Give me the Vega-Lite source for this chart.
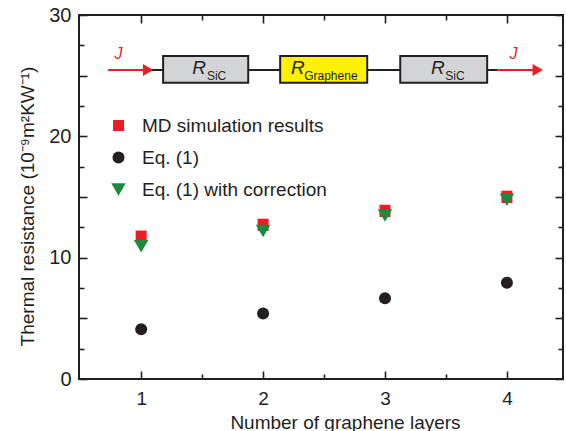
{
  "$schema": "https://vega.github.io/schema/vega-lite/v6.json",
  "width": 484,
  "height": 364,
  "autosize": {"type": "none"},
  "padding": {"left": 79, "top": 15, "right": 3, "bottom": 52},
  "background": "white",
  "config": {
    "font": "Liberation Sans",
    "view": {"stroke": "#231f20", "strokeWidth": 2},
    "axis": {
      "grid": false,
      "domain": false,
      "tickColor": "#231f20",
      "tickWidth": 1.6,
      "labelColor": "#231f20",
      "titleColor": "#231f20",
      "labelFont": "Liberation Sans",
      "titleFont": "Liberation Sans",
      "titleFontWeight": "normal"
    }
  },
  "datasets": {
    "points": [
      {"layers": 1, "value": 11.67, "series": "MD simulation results"},
      {"layers": 2, "value": 12.65, "series": "MD simulation results"},
      {"layers": 3, "value": 13.8, "series": "MD simulation results"},
      {"layers": 4, "value": 14.96, "series": "MD simulation results"},
      {"layers": 1, "value": 4.1, "series": "Eq. (1)"},
      {"layers": 2, "value": 5.4, "series": "Eq. (1)"},
      {"layers": 3, "value": 6.65, "series": "Eq. (1)"},
      {"layers": 4, "value": 7.94, "series": "Eq. (1)"},
      {"layers": 1, "value": 10.94, "series": "Eq. (1) with correction"},
      {"layers": 2, "value": 12.2, "series": "Eq. (1) with correction"},
      {"layers": 3, "value": 13.48, "series": "Eq. (1) with correction"},
      {"layers": 4, "value": 14.78, "series": "Eq. (1) with correction"}
    ],
    "errors": [
      {"layers": 1, "lo": 11.17, "hi": 12.17},
      {"layers": 2, "lo": 12.15, "hi": 13.15},
      {"layers": 3, "lo": 13.3, "hi": 14.3},
      {"layers": 4, "lo": 14.46, "hi": 15.46}
    ],
    "wire": [{"x": 1.057, "x2": 3.92, "y": 25.47}],
    "current": [
      {"x": 0.729, "x2": 1.04, "y": 25.47},
      {"x": 3.92, "x2": 4.24, "y": 25.47}
    ],
    "arrowheads": [
      {"x": 1.057, "y": 25.47},
      {"x": 4.253, "y": 25.47}
    ],
    "boxes": [
      {"x": 1.18, "x2": 1.878, "y": 24.41, "y2": 26.63, "part": "SiC"},
      {"x": 2.14, "x2": 2.854, "y": 24.41, "y2": 26.63, "part": "Graphene"},
      {"x": 3.125, "x2": 3.838, "y": 24.41, "y2": 26.63, "part": "SiC"}
    ],
    "rLabels": [
      {"x": 1.418, "y": 25.14, "text": "R"},
      {"x": 2.228, "y": 25.14, "text": "R"},
      {"x": 3.377, "y": 25.14, "text": "R"}
    ],
    "subLabels": [
      {"x": 1.539, "y": 24.65, "text": "SiC"},
      {"x": 2.337, "y": 24.65, "text": "Graphene"},
      {"x": 3.494, "y": 24.65, "text": "SiC"}
    ],
    "jLabels": [
      {"x": 0.814, "y": 26.35, "text": "J"},
      {"x": 4.054, "y": 26.35, "text": "J"}
    ]
  },
  "layer": [
    {
      "data": {"name": "wire"},
      "mark": {"type": "rule", "color": "#231f20", "strokeWidth": 2},
      "encoding": {
        "x": {"field": "x", "type": "quantitative", "scale": {"domain": [0.49, 4.46]},
          "axis": {"orient": "top", "title": null, "labels": false, "values": [1.5, 2.5, 3.5], "tickSize": -5}},
        "x2": {"field": "x2"},
        "y": {"field": "y", "type": "quantitative", "scale": {"domain": [0, 30]},
          "axis": {"orient": "right", "title": null, "labels": false, "values": [2.5, 7.5, 12.5, 17.5, 22.5, 27.5], "tickSize": -5}}
      }
    },
    {
      "data": {"name": "current"},
      "mark": {"type": "rule", "color": "#ed1c24", "strokeWidth": 2},
      "encoding": {
        "x": {"field": "x", "type": "quantitative", "scale": {"domain": [0.49, 4.46]},
          "axis": {"orient": "top", "title": null, "labels": false, "values": [1, 2, 3, 4], "tickSize": -8}},
        "x2": {"field": "x2"},
        "y": {"field": "y", "type": "quantitative", "scale": {"domain": [0, 30]},
          "axis": {"orient": "right", "title": null, "labels": false, "values": [0, 5, 10, 15, 20, 25, 30], "tickSize": -8}}
      }
    },
    {
      "data": {"name": "arrowheads"},
      "mark": {"type": "point", "shape": "triangle-right", "filled": true, "color": "#ed1c24", "opacity": 1, "size": 144},
      "encoding": {
        "x": {"field": "x", "type": "quantitative", "scale": {"domain": [0.49, 4.46]},
          "axis": {"orient": "top", "offset": -364, "title": null, "labels": false, "values": [1, 2, 3, 4], "tickSize": 8}},
        "y": {"field": "y", "type": "quantitative", "scale": {"domain": [0, 30]},
          "axis": {"orient": "right", "offset": -484, "title": null, "labels": false, "values": [0, 5, 10, 15, 20, 25, 30], "tickSize": 8}}
      }
    },
    {
      "data": {"name": "boxes"},
      "mark": {"type": "rect", "stroke": "#231f20", "strokeWidth": 2},
      "encoding": {
        "x": {"field": "x", "type": "quantitative", "scale": {"domain": [0.49, 4.46]},
          "axis": {"orient": "top", "offset": -364, "title": null, "labels": false, "values": [1.5, 2.5, 3.5], "tickSize": 5}},
        "x2": {"field": "x2"},
        "y": {"field": "y", "type": "quantitative", "scale": {"domain": [0, 30]},
          "axis": {"orient": "right", "offset": -484, "title": null, "labels": false, "values": [2.5, 7.5, 12.5, 17.5, 22.5, 27.5], "tickSize": 5}},
        "y2": {"field": "y2"},
        "fill": {"field": "part", "type": "nominal", "scale": {"domain": ["SiC", "Graphene"], "range": ["#d3d4d6", "#fff200"]}, "legend": null}
      }
    },
    {
      "data": {"name": "rLabels"},
      "mark": {"type": "text", "align": "left", "baseline": "alphabetic", "fontSize": 19, "fontStyle": "italic", "color": "#231f20"},
      "encoding": {
        "x": {"field": "x", "type": "quantitative", "scale": {"domain": [0.49, 4.46]}, "axis": null},
        "y": {"field": "y", "type": "quantitative", "scale": {"domain": [0, 30]}, "axis": null},
        "text": {"field": "text"}
      }
    },
    {
      "data": {"name": "subLabels"},
      "mark": {"type": "text", "align": "left", "baseline": "alphabetic", "fontSize": 12, "color": "#231f20"},
      "encoding": {
        "x": {"field": "x", "type": "quantitative", "scale": {"domain": [0.49, 4.46]}, "axis": null},
        "y": {"field": "y", "type": "quantitative", "scale": {"domain": [0, 30]}, "axis": null},
        "text": {"field": "text"}
      }
    },
    {
      "data": {"name": "jLabels"},
      "mark": {"type": "text", "align": "center", "baseline": "alphabetic", "fontSize": 16, "fontStyle": "italic", "color": "#ed1c24"},
      "encoding": {
        "x": {"field": "x", "type": "quantitative", "scale": {"domain": [0.49, 4.46]}, "axis": null},
        "y": {"field": "y", "type": "quantitative", "scale": {"domain": [0, 30]}, "axis": null},
        "text": {"field": "text"}
      }
    },
    {
      "data": {"name": "errors"},
      "mark": {"type": "rule", "color": "#ed1c24", "strokeWidth": 1.5},
      "encoding": {
        "x": {"field": "layers", "type": "quantitative", "scale": {"domain": [0.49, 4.46]}, "axis": null},
        "y": {"field": "lo", "type": "quantitative", "scale": {"domain": [0, 30]}, "axis": null},
        "y2": {"field": "hi"}
      }
    },
    {
      "data": {"name": "errors"},
      "mark": {"type": "tick", "orient": "horizontal", "color": "#ed1c24", "thickness": 1.5, "size": 11, "opacity": 1},
      "encoding": {
        "x": {"field": "layers", "type": "quantitative", "scale": {"domain": [0.49, 4.46]}, "axis": null},
        "y": {"field": "hi", "type": "quantitative", "scale": {"domain": [0, 30]}, "axis": null}
      }
    },
    {
      "data": {"name": "points"},
      "mark": {"type": "point", "filled": true, "opacity": 1, "strokeWidth": 0},
      "encoding": {
        "x": {
          "field": "layers", "type": "quantitative", "scale": {"domain": [0.49, 4.46]},
          "axis": {
            "orient": "bottom", "title": "Number of graphene layers",
            "values": [1, 2, 3, 4], "format": "d", "tickSize": 0,
            "labelFontSize": 19, "labelPadding": 10,
            "titleFontSize": 19, "titleX": 266, "titleY": 49, "titleAlign": "center", "titleBaseline": "alphabetic"
          }
        },
        "y": {
          "field": "value", "type": "quantitative", "scale": {"domain": [0, 30]},
          "axis": {
            "orient": "left", "title": "Thermal resistance (10⁻⁹m²KW⁻¹)",
            "values": [0, 10, 20, 30], "format": "d", "tickSize": 0,
            "labelFontSize": 20, "labelPadding": 8,
            "titleFontSize": 19, "titleX": -52, "titleY": 191, "titleAngle": -90, "titleAlign": "center", "titleBaseline": "middle"
          }
        },
        "color": {
          "field": "series", "type": "nominal",
          "scale": {"domain": ["MD simulation results", "Eq. (1)", "Eq. (1) with correction"], "range": ["#ed1c24", "#231f20", "#1b8a3d"]},
          "legend": {
            "orient": "none", "legendX": 30, "legendY": 101, "title": null,
            "labelFontSize": 19, "labelColor": "#231f20", "labelLimit": 400, "symbolSize": 130, "symbolStrokeWidth": 0,
            "labelOffset": 14, "rowPadding": 12, "padding": 0
          }
        },
        "shape": {
          "field": "series", "type": "nominal",
          "scale": {"domain": ["MD simulation results", "Eq. (1)", "Eq. (1) with correction"], "range": ["square", "circle", "triangle-down"]}
        },
        "size": {
          "field": "series", "type": "ordinal",
          "scale": {"type": "ordinal", "domain": ["MD simulation results", "Eq. (1)", "Eq. (1) with correction"], "range": [121, 144, 210]},
          "legend": null
        }
      }
    }
  ],
  "resolve": {"axis": {"x": "independent", "y": "independent"}}
}
